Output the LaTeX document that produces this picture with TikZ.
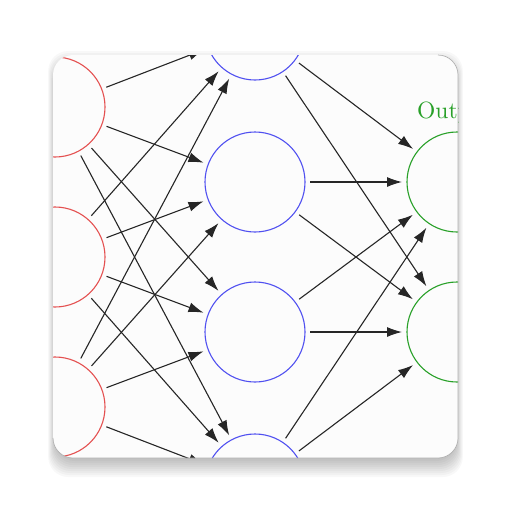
\documentclass[tikz,border=0pt]{standalone}
\usetikzlibrary{arrows.meta}
\definecolor{inred}{RGB}{228,80,80}
\definecolor{hidblue}{RGB}{80,80,240}
\definecolor{outgreen}{RGB}{40,160,40}
\definecolor{cardfill}{RGB}{252,252,252}
\begin{document}
\begin{tikzpicture}[x=1pt,y=-1pt,
  neuron/.style={circle,minimum size=100pt,inner sep=0pt,line width=1.1pt,outer sep=5pt},
  inneuron/.style={neuron,draw=inred},
  hidneuron/.style={neuron,draw=hidblue},
  outneuron/.style={neuron,draw=outgreen},
  conn/.style={-{Latex[length=15pt,width=10pt]},line width=1.1pt,black!85}]
\useasboundingbox (0,0) rectangle (512,512);
\fill[white] (0,0) rectangle (512,512);
% soft shadow below the card
\foreach \e in {12,10,...,-10}
  \fill[black,opacity=0.028,rounded corners=20pt]
    ({53-0.4*\e},{55+8-\e}) rectangle ({458+0.4*\e},{458+7+\e});
\path[fill=cardfill,rounded corners=20pt] (53,55) rectangle (458,458);
\begin{scope}
\clip[rounded corners=20pt] (53,55) rectangle (458,458);
\node[inneuron] (I1) at (55,107) {};
\node[inneuron] (I2) at (55,257) {};
\node[inneuron] (I3) at (55,407) {};
\node[hidneuron] (H1) at (255,30) {};
\node[hidneuron] (H2) at (255,182) {};
\node[hidneuron] (H3) at (255,332) {};
\node[hidneuron] (H4) at (255,484) {};
\node[outneuron] (O1) at (457,182) {};
\node[outneuron] (O2) at (457,332) {};
\node[text=outgreen,anchor=base west,inner sep=0pt] (lab) at (417,118) {\scalebox{2.35}{Output}};
\foreach \i in {I1,I2,I3}
  \foreach \h in {H1,H2,H3,H4}
    \draw[conn] (\i) -- (\h);
\foreach \h in {H1,H2,H3,H4}
  \foreach \o in {O1,O2}
    \draw[conn] (\h) -- (\o);
\end{scope}
\draw[black!30,line width=0.7pt,rounded corners=20pt] (438,55) -- (458,55) -- (458,458) -- (53,458) -- (53,438);
\end{tikzpicture}
\end{document}
